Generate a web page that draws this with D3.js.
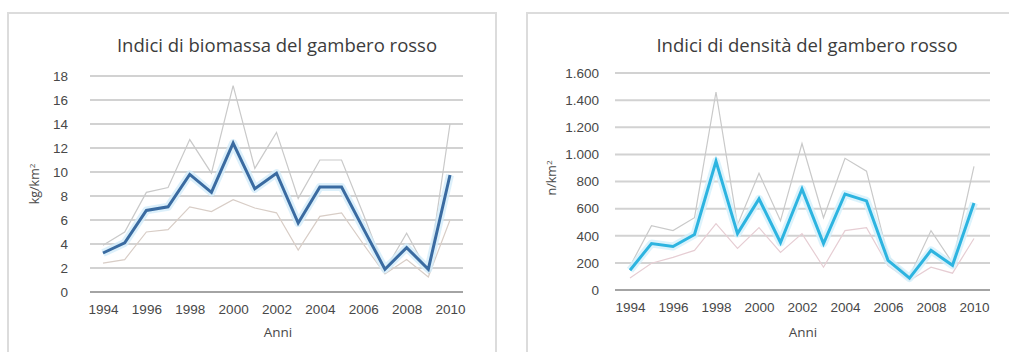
<!DOCTYPE html>
<html lang="it">
<head>
<meta charset="UTF-8">
<title>Indici gambero rosso</title>
<script src="https://cdn.jsdelivr.net/npm/d3@7"></script>
<style>
  body { margin: 0; background: #fff; }
  svg { display: block; font-family: "Open Sans", "Noto Sans", sans-serif; }
</style>
</head>
<body>
<div id="chart"></div>
<script>
// anni
const years = [1994,1995,1996,1997,1998,1999,2000,2001,2002,2003,2004,2005,2006,2007,2008,2009,2010];
const yearTicks = [1994,1996,1998,2000,2002,2004,2006,2008,2010];

// biomassa (kg/km²)
const biomassa      = [3.25,4.1,6.8,7.1,9.8,8.3,12.4,8.6,9.9,5.75,8.75,8.75,5.3,1.9,3.7,1.9,9.75];
const biomassaUpper = [3.9,5.0,8.3,8.7,12.7,9.9,17.2,10.3,13.3,7.8,11.0,11.0,6.5,1.8,4.9,1.6,14.0];
const biomassaLower = [2.4,2.7,5.0,5.2,7.1,6.7,7.7,7.0,6.6,3.5,6.3,6.6,4.0,1.5,2.7,1.25,6.0];
const biomassaTicks = [0,2,4,6,8,10,12,14,16,18];

// densità (n/km²)
const densita      = [146,343,321,409,949,416,672,350,745,343,708,657,219,88,292,182,642];
const densitaUpper = [175,474,438,533,1460,480,861,510,1080,533,971,876,250,100,438,200,912];
const densitaLower = [88,197,241,292,489,307,460,277,416,168,438,460,180,70,168,124,380];
const densitaTicks = [0,200,400,600,800,1000,1200,1400,1600];

const W = 1009, H = 352;
const svg = d3.select("#chart").append("svg").attr("width", W).attr("height", H);

const it = d3.formatLocale({decimal: ",", thousands: ".", grouping: [3], currency: ["€", ""]});

function drawPanel(cfg) {
  // cornice
  svg.append("rect")
    .attr("x", cfg.box[0]).attr("y", cfg.box[1])
    .attr("width", cfg.box[2]).attr("height", cfg.box[3])
    .attr("fill", "none").attr("stroke", "#dcdcdc").attr("stroke-width", 2);

  const x = d3.scaleLinear().domain([1994, 2010]).range(cfg.xRange);
  const y = d3.scaleLinear().domain([0, cfg.yMax]).range(cfg.yRange);

  // griglia
  svg.append("g").selectAll("line")
    .data(cfg.yTicks.filter(d => d > 0))
    .join("line")
    .attr("x1", cfg.gridX[0]).attr("x2", cfg.gridX[1])
    .attr("y1", d => y(d)).attr("y2", d => y(d))
    .attr("stroke", "#d2d2d2").attr("stroke-width", 2);

  svg.append("line")
    .attr("x1", cfg.gridX[0]).attr("x2", cfg.gridX[1])
    .attr("y1", y(0)).attr("y2", y(0))
    .attr("stroke", "#a4a4a4").attr("stroke-width", 2);

  // assi
  const ax = svg.append("g")
    .attr("transform", `translate(0,${y(0)})`)
    .call(d3.axisBottom(x).tickValues(yearTicks).tickFormat(d3.format("d")).tickSize(0).tickPadding(12));
  ax.select(".domain").remove();
  ax.selectAll("text").attr("fill", "#484848").style("font-size", "13.5px");

  const ay = svg.append("g")
    .attr("transform", `translate(${cfg.yAxisX},0)`)
    .call(d3.axisLeft(y).tickValues(cfg.yTicks).tickFormat(cfg.fmt).tickSize(0).tickPadding(3));
  ay.select(".domain").remove();
  ay.selectAll("text").attr("fill", "#484848").style("font-size", "13.5px");

  // linee
  const line = d3.line().x((d, i) => x(years[i])).y(d => y(d));

  svg.append("path").datum(cfg.upper)
    .attr("d", line).attr("fill", "none")
    .attr("stroke", "#c9c9c9").attr("stroke-width", 1.2);
  svg.append("path").datum(cfg.lower)
    .attr("d", line).attr("fill", "none")
    .attr("stroke", cfg.lowerColor).attr("stroke-width", 1.2);

  svg.append("path").datum(cfg.values)
    .attr("d", line).attr("fill", "none")
    .attr("stroke", cfg.haloColor).attr("stroke-width", 8)
    .attr("stroke-linejoin", "round").attr("opacity", 0.8);
  svg.append("path").datum(cfg.values)
    .attr("d", line).attr("fill", "none")
    .attr("stroke", cfg.color).attr("stroke-width", 3)
    .attr("stroke-linejoin", "miter");

  // testi
  svg.append("text")
    .attr("x", cfg.titleX).attr("y", 52)
    .attr("text-anchor", "middle").attr("fill", "#3c3c3c")
    .style("font-size", "18.5px")
    .text(cfg.title);

  svg.append("text")
    .attr("x", cfg.anniX).attr("y", 337)
    .attr("text-anchor", "middle").attr("fill", "#484848")
    .style("font-size", "13.5px")
    .text("Anni");

  const yl = svg.append("text")
    .attr("transform", `translate(${cfg.yLabel[0]},${cfg.yLabel[1]}) rotate(-90)`)
    .attr("text-anchor", "middle").attr("fill", "#484848")
    .style("font-size", "12.5px");
  yl.append("tspan").text(cfg.unit);
  yl.append("tspan").attr("dy", "-0.45em").style("font-size", "8px").text("2");
}

drawPanel({
  box: [8, 13, 488, 360],
  xRange: [103, 450], gridX: [90, 463],
  yMax: 18, yRange: [292, 76], yTicks: biomassaTicks, yAxisX: 71,
  fmt: d3.format("d"),
  values: biomassa, upper: biomassaUpper, lower: biomassaLower,
  color: "#3a6ba1", haloColor: "#d3ecfa", lowerColor: "#d8cdc6",
  title: "Indici di biomassa del gambero rosso", titleX: 277,
  anniX: 278, yLabel: [39, 184], unit: "kg/km"
});

drawPanel({
  box: [527, 13, 500, 360],
  xRange: [630, 974], gridX: [615, 990],
  yMax: 1600, yRange: [290, 73], yTicks: densitaTicks, yAxisX: 602,
  fmt: it.format(","),
  values: densita, upper: densitaUpper, lower: densitaLower,
  color: "#2db4e0", haloColor: "#d3f0fb", lowerColor: "#e6cdd3",
  title: "Indici di densità del gambero rosso", titleX: 807,
  anniX: 803, yLabel: [556, 178], unit: "n/km"
});
</script>
</body>
</html>
